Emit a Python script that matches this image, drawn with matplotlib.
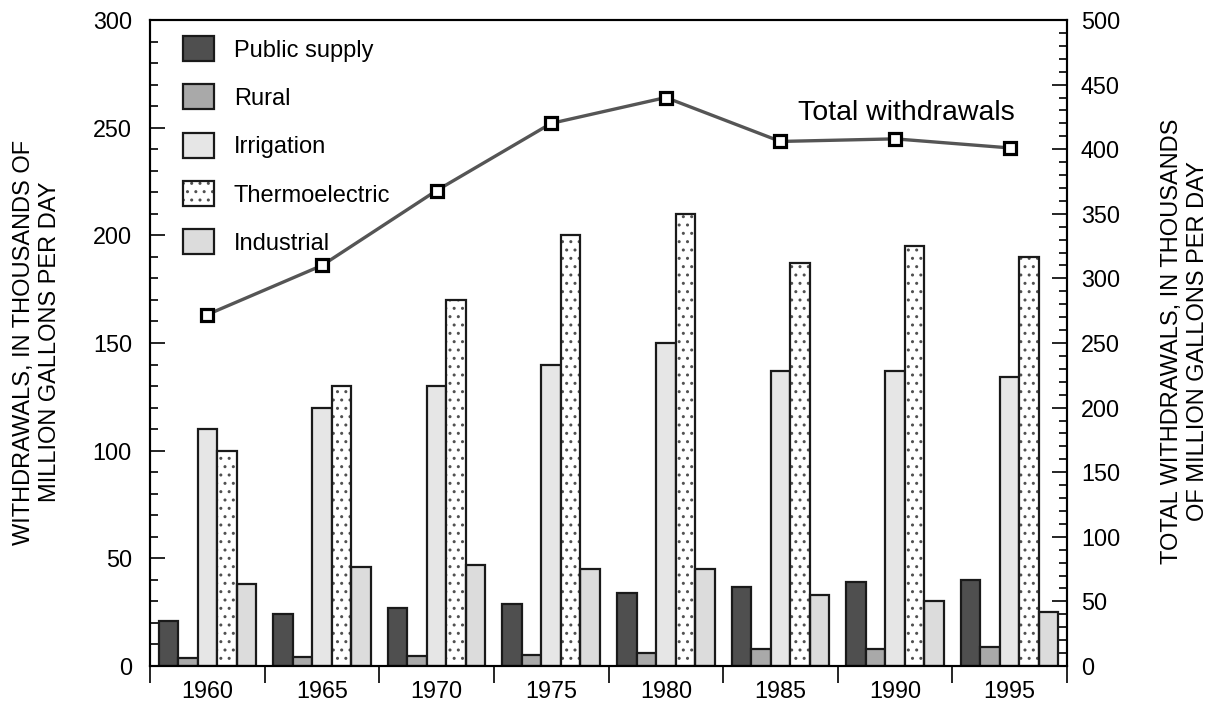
import numpy as np
import matplotlib.pyplot as plt
from matplotlib.patches import Patch

plt.rcParams['font.family'] = ['Liberation Sans', 'DejaVu Sans']
plt.rcParams['hatch.linewidth'] = 1.0

years = ['1960', '1965', '1970', '1975', '1980', '1985', '1990', '1995']
public_supply = [21, 24, 27, 29, 34, 36.5, 39, 40]
rural = [3.7, 4.2, 4.5, 5, 6, 8, 8, 9]
irrigation = [110, 120, 130, 140, 150, 137, 137, 134]
thermoelectric = [100, 130, 170, 200, 210, 187, 195, 190]
industrial = [38, 46, 47, 45, 45, 33, 30, 25]
total = [272, 310, 368, 420, 440, 406, 408, 401]

series = [
    ('Public supply', public_supply, '#4f4f4f', None),
    ('Rural', rural, '#a9a9a9', None),
    ('Irrigation', irrigation, '#e6e6e6', None),
    ('Thermoelectric', thermoelectric, 'white', '..'),
    ('Industrial', industrial, '#dcdcdc', None),
]

fig = plt.figure(figsize=(12.17, 7.10), dpi=100)
ax = fig.add_axes([150/1217, 1-666/710, 917/1217, 646/710])

x = np.arange(len(years))
w = 0.17
ec = '#1a1a1a'
handles = []
for i, (name, vals, col, hatch) in enumerate(series):
    pos = x + (i-2)*w
    if hatch:
        # dotted fill in grey, then a black outline on top
        ax.bar(pos, vals, width=w, color=col, edgecolor='#505050',
               linewidth=0, hatch=hatch, zorder=2)
        ax.bar(pos, vals, width=w, facecolor='none', edgecolor=ec,
               linewidth=1.6, zorder=2.1)
        handles.append((Patch(facecolor=col, edgecolor='#505050', linewidth=0, hatch=hatch),
                        Patch(facecolor='none', edgecolor=ec, linewidth=1.6)))
    else:
        ax.bar(pos, vals, width=w, color=col, edgecolor=ec, linewidth=1.6, zorder=2)
        handles.append(Patch(facecolor=col, edgecolor=ec, linewidth=1.6))

ax.set_xlim(-0.5, len(years)-0.5)
ax.set_ylim(0, 300)
ax.set_yticks(np.arange(0, 301, 50))
ax.set_yticks(np.arange(0, 301, 10), minor=True)
ax.tick_params(axis='y', which='both', direction='in', labelsize=16.8, width=1.2, pad=13)
ax.tick_params(axis='y', which='major', length=11)
ax.tick_params(axis='y', which='minor', length=6)

ax.set_xticks(np.arange(-0.5, len(years), 1))
ax.set_xticklabels([])
ax.set_xticks(x, minor=True)
ax.set_xticklabels(years, minor=True)
ax.tick_params(axis='x', which='major', direction='out', length=12, width=1.2)
ax.tick_params(axis='x', which='minor', length=0, labelsize=16.8, pad=10)

for s in ax.spines.values():
    s.set_linewidth(1.5)

ax.legend(handles=handles, labels=[s[0] for s in series], loc='upper left',
          frameon=False, fontsize=17, handlelength=1.3, handleheight=1.25,
          labelspacing=0.97, handletextpad=0.85, borderpad=0, borderaxespad=0,
          bbox_to_anchor=(0.036, 0.975))

ax2 = ax.twinx()
ax2.set_ylim(0, 500)
ax2.set_yticks(np.arange(0, 501, 50))
ax2.set_yticks(np.arange(0, 501, 10), minor=True)
ax2.tick_params(axis='y', which='both', direction='in', labelsize=16.8, width=1.2, pad=10)
ax2.tick_params(axis='y', which='major', length=11)
ax2.tick_params(axis='y', which='minor', length=6)
ax2.plot(x, total, color='#555555', linewidth=2.4, marker='s', markersize=9,
         markerfacecolor='white', markeredgecolor='black', markeredgewidth=2.3,
         zorder=3)
ax2.text(5.15, 428, 'Total withdrawals', fontsize=20.5, ha='left', va='center')
for s in ax2.spines.values():
    s.set_linewidth(1.5)

fig.text(37/1217, 1-342/710, 'WITHDRAWALS, IN THOUSANDS OF\nMILLION GALLONS PER DAY',
         rotation=90, ha='center', va='center', fontsize=17, multialignment='center')
fig.text(1185/1217, 1-341/710, 'TOTAL WITHDRAWALS, IN THOUSANDS\nOF MILLION GALLONS PER DAY',
         rotation=90, ha='center', va='center', fontsize=17, multialignment='center')

fig.savefig('out.png', dpi=100)
